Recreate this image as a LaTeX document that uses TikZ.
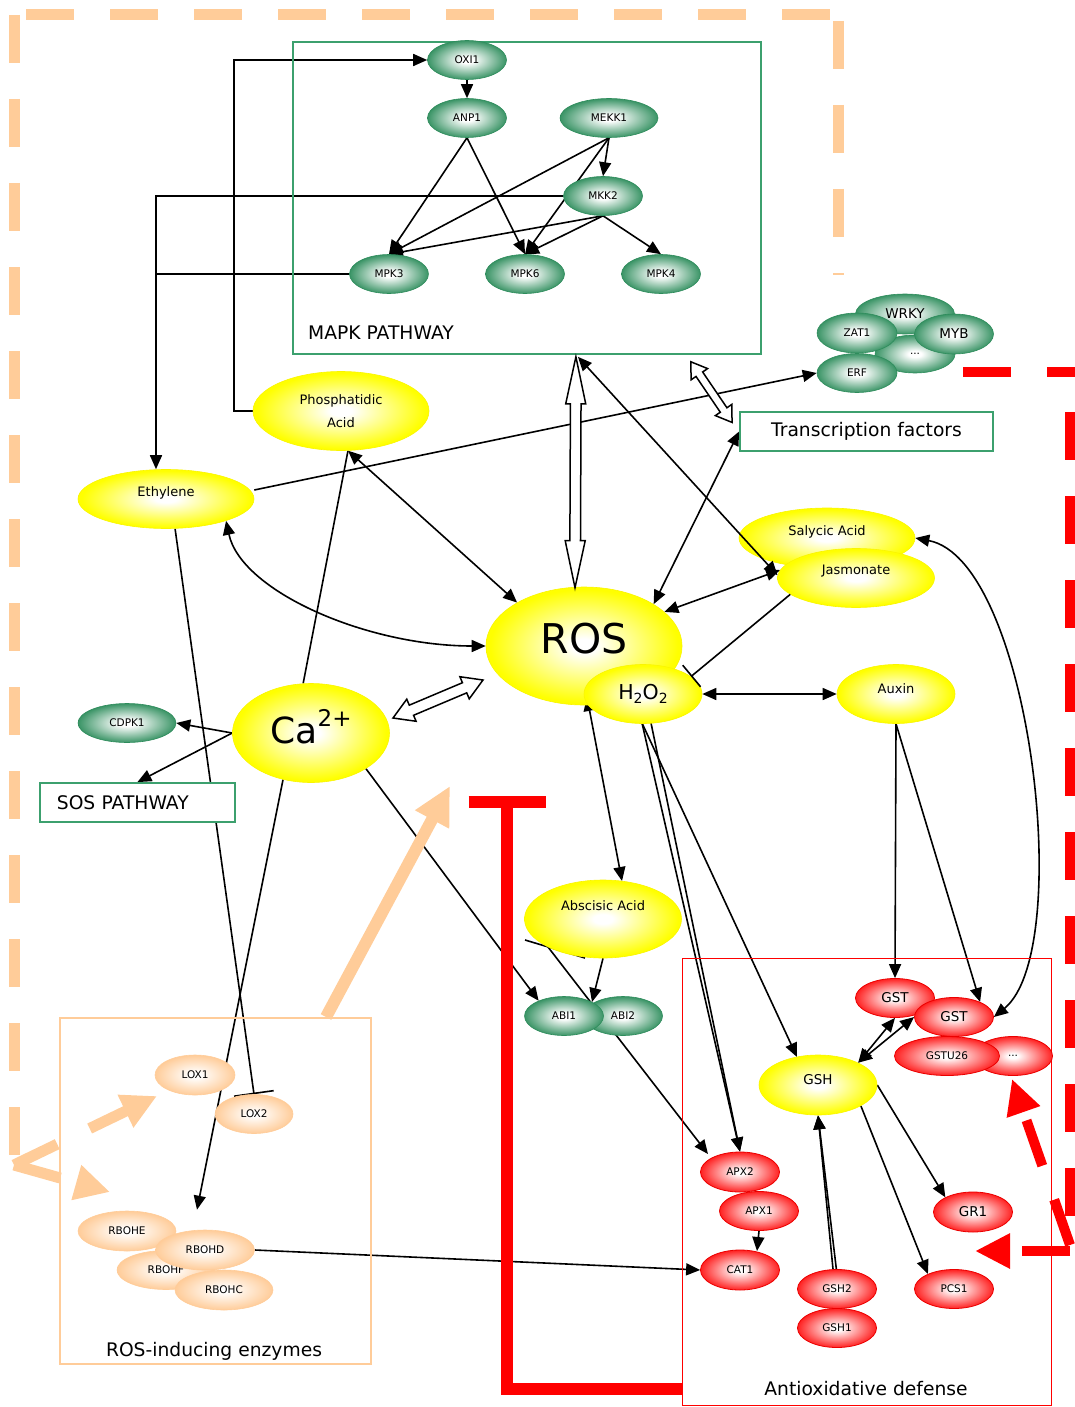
\documentclass[tikz,border=0pt]{standalone}
\usepackage{fontspec}
\setmainfont{DejaVu Sans}
\usetikzlibrary{shapes.geometric,arrows.meta,calc}
\pgfdeclarelayer{bg}
\pgfsetlayers{bg,main}

\definecolor{gdark}{RGB}{46,140,92}
\definecolor{boxgreen}{RGB}{60,160,110}
\definecolor{peach}{RGB}{255,204,153}
\definecolor{yedge}{RGB}{250,245,0}
\definecolor{redge}{RGB}{235,0,0}

\pgfdeclareradialshading{gshade}{\pgfpointorigin}{rgb(0bp)=(1,1,1); rgb(4bp)=(1,1,1); rgb(26bp)=(0.19,0.56,0.37); rgb(50bp)=(0.19,0.56,0.37)}
\pgfdeclareradialshading{yshade}{\pgfpointorigin}{rgb(0bp)=(1,1,1); rgb(3bp)=(1,1,1); rgb(24bp)=(1,1,0); rgb(50bp)=(1,1,0)}
\pgfdeclareradialshading{rshade}{\pgfpointorigin}{rgb(0bp)=(1,1,1); rgb(3bp)=(1,1,1); rgb(27bp)=(1,0.05,0.05); rgb(50bp)=(1,0.05,0.05)}
\pgfdeclareradialshading{pshade}{\pgfpointorigin}{rgb(0bp)=(1,1,1); rgb(3bp)=(1,1,1); rgb(25bp)=(1,0.8,0.6); rgb(50bp)=(1,0.8,0.6)}

\newcommand{\myfA}{\fontsize{10.5}{12}\selectfont}
\newcommand{\myfB}{\fontsize{13}{15}\selectfont}
\newcommand{\myfD}{\fontsize{13.5}{16}\selectfont}
\newcommand{\myfC}{\fontsize{18.7}{22}\selectfont}

\tikzset{
  myTip/.tip={Triangle[length=14pt,width=12pt]},
  pTip/.tip={Triangle[length=35pt,width=34pt]},
  rTip/.tip={Triangle[length=35pt,width=33pt]},
  el/.style={ellipse, inner sep=0pt, text=black},
  gn/.style={el, shade, shading=gshade, draw=gdark, line width=0.6pt, minimum width=79pt, minimum height=39pt, font=\myfA},
  yn/.style={el, shade, shading=yshade, draw=yedge, line width=0.6pt, font=\myfB},
  rn/.style={el, shade, shading=rshade, draw=redge, line width=0.8pt, minimum width=79pt, minimum height=39pt, font=\myfA},
  pn/.style={el, shade, shading=pshade, draw=peach, line width=0.6pt, minimum width=79pt, minimum height=39pt, font=\myfA},
  ln/.style={draw=black, line width=1.6pt},
  arr/.style={ln, -myTip},
  darr/.style={ln, myTip-myTip},
  hollow/.style={draw=black, fill=white, line width=1.5pt, line join=miter},
  gbox/.style={draw=boxgreen, line width=1.8pt, inner sep=0pt},
  peachdash/.style={draw=peach, line width=11pt, dash pattern=on 48pt off 36pt},
  peacharr/.style={peachdash, -pTip},
  reddash/.style={draw=red, line width=10pt, dash pattern=on 48pt off 36pt},
  redarr/.style={reddash, -rTip},
  lbl/.style={inner sep=0pt, font=\myfC}
}

% hollow double arrow: #1 start, #2 end, #3 head length, #4 head half width, #5 shaft half width
\newcommand{\hollowDA}[5]{%
  \path let \p1=(#1), \p2=(#2) in \pgfextra{%
    \pgfmathsetmacro\hdaang{atan2(\y2-\y1,\x2-\x1)}%
    \pgfmathsetmacro\hdalen{veclen(\x2-\x1,\y2-\y1)}%
    \global\let\hdaang\hdaang \global\let\hdalen\hdalen};
  \begin{scope}[shift={(#1)}, rotate=\hdaang]
    \draw[hollow] (0pt,0pt) -- (#3pt,#4pt) -- (#3pt,#5pt) -- ({(\hdalen-#3)*1pt},#5pt)
      -- ({(\hdalen-#3)*1pt},#4pt) -- ({\hdalen*1pt},0pt) -- ({(\hdalen-#3)*1pt},-#4pt)
      -- ({(\hdalen-#3)*1pt},-#5pt) -- (#3pt,-#5pt) -- (#3pt,-#4pt) -- cycle;
  \end{scope}}

\begin{document}
\begin{tikzpicture}[x=1pt,y=-1pt]
\useasboundingbox (0,0) rectangle (1075,1407);

% ---------- frames ----------
\node[gbox, anchor=north west, minimum width=468pt, minimum height=312pt] (mapk) at (292,41) {};
\node[draw=peach, line width=1.8pt, anchor=north west, minimum width=311pt, minimum height=346pt, inner sep=0pt] (rosbox) at (59,1017) {};
\node[draw=red, line width=1.3pt, anchor=north west, minimum width=369pt, minimum height=447pt, inner sep=0pt] (adbox) at (682,958) {};

% ---------- green nodes ----------
\node[gn] (oxi1) at (467,60) {OXI1};
\node[gn] (anp1) at (467,118) {ANP1};
\node[gn, minimum width=98pt] (mekk1) at (609,118) {MEKK1};
\node[gn] (mkk2) at (603,196) {MKK2};
\node[gn] (mpk3) at (389,274) {MPK3};
\node[gn] (mpk6) at (525,274) {MPK6};
\node[gn] (mpk4) at (661,274) {MPK4};

\node[gn, minimum width=99pt, minimum height=40pt, font=\myfD] (wrky) at (905,314) {WRKY};
\node[gn, minimum width=80pt, minimum height=38pt] (tfdots) at (915,354) {...};
\node[gn, minimum width=80pt, minimum height=40pt] (zat1) at (857,333) {ZAT1};
\node[gn, minimum height=40pt, font=\myfD] (myb) at (954,334) {MYB};
\node[gn, minimum width=80pt] (erf) at (857,373) {ERF};

\node[gn, minimum width=98pt] (cdpk1) at (127,723) {CDPK1};
\node[gn] (abi2) at (623,1016) {ABI2};
\node[gn] (abi1) at (564,1016) {ABI1};

% ---------- yellow nodes ----------
\node[yn, minimum width=176pt, minimum height=79pt, align=center, font=\fontsize{13}{23}\selectfont] (pa) at (341,411) {Phosphatidic\\Acid};
\node[yn, minimum width=176pt, minimum height=59pt, text depth=15pt] (eth) at (166,499) {Ethylene};
\node[yn, minimum width=196pt, minimum height=118pt, font=\fontsize{41}{46}\selectfont, text depth=16pt] (ros) at (584,646) {ROS};
\node[yn, minimum width=118pt, minimum height=59pt, font=\fontsize{20.5}{24}\selectfont] (h2o2) at (643,694) {H\raisebox{-4pt}{\fontsize{14}{16}\selectfont 2}O\raisebox{-4pt}{\fontsize{14}{16}\selectfont 2}};
\node[yn, minimum width=157pt, minimum height=99pt, font=\fontsize{36}{40}\selectfont, text depth=14pt] (ca) at (311,733) {Ca\raisebox{17pt}{\fontsize{23}{26}\selectfont 2+}};
\node[yn, minimum width=176pt, minimum height=60pt, text depth=15pt] (sa) at (827,538) {Salycic Acid};
\node[yn, minimum width=157pt, minimum height=59pt, text depth=16pt] (jas) at (856,578) {Jasmonate};
\node[yn, minimum width=118pt, minimum height=59pt, text depth=10pt] (aux) at (896,694) {Auxin};
\node[yn, minimum width=157pt, minimum height=78pt, text depth=26pt] (aba) at (603,919) {Abscisic Acid};
\node[yn, minimum width=118pt, minimum height=60pt, font=\myfD, text depth=12pt] (gsh) at (818,1085) {GSH};

% ---------- peach nodes ----------
\node[pn, minimum width=80pt, minimum height=40pt] (lox1) at (195,1075) {LOX1};
\node[pn, minimum width=78pt] (lox2) at (254,1114) {LOX2};
\node[pn, minimum width=98pt, minimum height=40pt] (rbohe) at (127,1231) {RBOHE};
\node[pn, minimum width=98pt] (rbohf) at (166,1270) {RBOHF};
\node[pn, minimum width=99pt, minimum height=40pt] (rbohd) at (205,1250) {RBOHD};
\node[pn, minimum width=98pt, minimum height=40pt] (rbohc) at (224,1290) {RBOHC};

% ---------- red nodes ----------
\node[rn, font=\myfD] (gst1) at (895,998) {GST};
\node[rn, font=\myfD] (gst2) at (954,1017) {GST};
\node[rn] (rdots) at (1013,1056) {...};
\node[rn, minimum width=105pt] (gstu26) at (947,1056) {GSTU26};
\node[rn, minimum height=40pt] (apx2) at (740,1172) {APX2};
\node[rn] (apx1) at (759,1211) {APX1};
\node[rn, minimum height=40pt] (cat1) at (740,1270) {CAT1};
\node[rn] (gsh2) at (837,1289) {GSH2};
\node[rn] (gsh1) at (837,1328) {GSH1};
\node[rn, minimum height=40pt, font=\myfD] (gr1) at (973,1212) {GR1};
\node[rn] (pcs1) at (954,1289) {PCS1};

% ---------- boxes with text ----------
\node[gbox, fill=white, minimum width=253pt, minimum height=39pt, font=\myfC] (tf) at (866.5,431.5) {Transcription factors};
\node[gbox, fill=white, anchor=west, minimum width=195pt, minimum height=39pt, text width=161pt, inner xsep=17pt, font=\myfC] (sos) at (39,802.5) {SOS PATHWAY};

\node[lbl, anchor=west] (mapklbl) at (308,333) {MAPK PATHWAY};
\node[lbl] (roslbl) at (214,1351) {ROS-inducing enzymes};
\node[lbl] (adlbl) at (866,1389) {Antioxidative defense};

% ---------- connectors (behind nodes) ----------
\begin{pgfonlayer}{bg}
\draw[arr] (oxi1) -- (anp1);
\draw[arr] (anp1.south) -- (mpk3.north);
\draw[arr] (anp1.south) -- (mpk6.north);
\draw[arr] (mekk1.south) -- (mkk2.north);
\draw[arr] (mekk1.south) -- (mpk3.north);
\draw[arr] (mekk1.south) -- (mpk6.north);
\draw[arr] (mkk2.south) -- (mpk3.north);
\draw[arr] (mkk2.south) -- (mpk6.north);
\draw[arr] (mkk2.south) -- (mpk4.north);

\coordinate (ethtop) at ($(eth.north)+(-10,0)$);
\draw[arr] (mkk2.west) -| (ethtop);
\draw[ln] (mpk3.west) -- (mpk3.west -| ethtop);
\draw[arr] (pa.west) -- ++(-19,0) |- (oxi1.west);
\draw[arr] ($(eth.east)+(0,-9)$) -- (erf.west);
\draw[darr] (pa.-80) -- (ros.147);
\draw[darr] (eth.-20) .. controls +(15,70) and +(-120,0) .. (ros.west);
\draw[ln, -{Bar[width=40pt]}] (eth.-73) -- (lox2.north);
\draw[ln] (ca.99) -- (pa.-80);
\draw[arr] (ca.west) -- (cdpk1.east);
\draw[arr] (ca.west) -- (sos.north);
\coordinate (rbohtip) at ($(rbohd.north)+(-8,-20)$);
\draw[arr] (ca.-121) -- (rbohtip);
\draw[arr] (ca.-33) -- (abi1.149);
\draw[arr] (aba.south) -- ($(abi2)+(-31,-14)$);
\draw[arr] ($(aba)+(-55,28)$) -- ($(apx2)+(-32,-18)$);
\draw[ln] ($(aba)+(-78,21)$) -- ($(aba)+(-18,39)$);
\draw[darr] ($(h2o2)+(-56,3)$) -- ($(aba)+(19,-38)$);
\draw[arr] ($(h2o2)+(-1,29)$) -- (apx2.north);
\draw[arr] ($(h2o2)+(8,29)$) -- (apx2.north);
\draw[arr] ($(h2o2)+(-1,29)$) -- ($(gsh)+(-21,-28)$);
\draw[darr] (ros.23) -- (jas.174);
\draw[darr] (tf.west) -- (ros.31);
\draw[darr] (h2o2.east) -- (aux.west);
\draw[arr] (aux.south) -- (gst1.north);
\draw[arr] (aux.south) -- (gst2.30);
\draw[darr] (sa.east) .. controls +(115,22) and +(82,-67) .. (gst2.east);
\draw[darr] (gsh.29) -- (gst1.south);
\draw[darr] (gsh.29) -- (gst2.west);
\draw[arr] (gsh.east) -- (gr1.152);
\draw[arr] (gsh.-26) -- (pcs1.150);
\draw[arr] ($(gsh2.north)+(-4,0)$) -- (gsh.south);
\draw[arr] ($(gsh1.north)+(4,0)$) -- (gsh.south);
\draw[arr] (apx1.south) -- ($(cat1)+(17,-19)$);
\draw[arr] (rbohd.east) -- (cat1.west);
\end{pgfonlayer}

% connectors drawn over nodes
\draw[darr] ($(mapk.south)+(51,2)$) -- (jas.178);
\draw[ln, -{Bar[width=28pt]}] (jas.194) -- (h2o2.20);

% ---------- hollow double arrows ----------
\coordinate (hmr1) at ($(mapk.south)+(49,2)$);
\coordinate (hmr2) at ($(ros.north)+(-9,1)$);
\hollowDA{hmr1}{hmr2}{47}{10}{5.3}
\coordinate (hmt1) at ($(mapk.south)+(164,7)$);
\coordinate (hmt2) at ($(tf.west)+(-7,-9)$);
\hollowDA{hmt1}{hmt2}{15}{10}{4}
\coordinate (hcr1) at ($(ca)+(82,-15)$);
\coordinate (hcr2) at ($(ros)+(-101,34)$);
\hollowDA{hcr1}{hcr2}{20}{12}{5.5}

% ---------- red inhibition ----------
\coordinate (redT) at (507,796);
\draw[draw=red, line width=12pt, line join=miter, -{Bar[width=77pt]}] ($(adbox.south west)+(0,-17)$) -| (redT);

% ---------- peach dashed frame and arrows ----------
\draw[peachdash] (26,15) -- (832,15);
\draw[peachdash] (838,21) -- (838,275);
\draw[peachdash] (14,15) -- (14,1157);
\coordinate (pcorner) at (14,1165);
\coordinate (ploxtip) at (157,1096);
\coordinate (prbtip) at (110,1192);
\draw[peacharr] (pcorner) -- (ploxtip);
\draw[peacharr] (pcorner) -- (prbtip);
\coordinate (peachtip) at (450,786);
\draw[draw=peach, line width=12pt, -{Triangle[length=38pt,width=36pt]}] ($(rosbox.north west)+(267,0)$) -- (peachtip);

% ---------- red dashed frame and arrows ----------
\draw[reddash] (963,372) -- (1080,372);
\draw[reddash] (1070,412) -- (1070,1251);
\coordinate (rcorner) at (1070,1251);
\coordinate (rlefttip) at (975,1251);
\draw[redarr] (rcorner) -- (rlefttip);
\draw[redarr] ($(rcorner)+(0,-6)$) -- ($(rdots.south)+(-1,3)$);
\end{tikzpicture}
\end{document}
